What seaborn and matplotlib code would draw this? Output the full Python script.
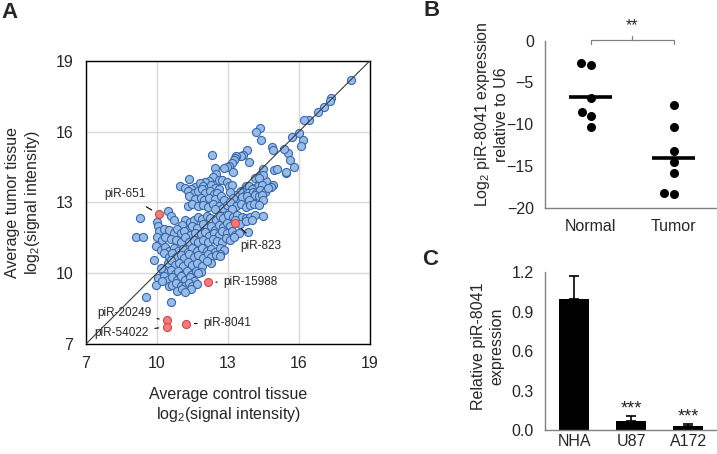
import numpy as np
import pandas as pd
import matplotlib
matplotlib.use('Agg')
import matplotlib.pyplot as plt
import seaborn as sns

sns.set_style('white')
plt.rcParams['font.family'] = ['Liberation Sans', 'DejaVu Sans']
plt.rcParams['mathtext.fontset'] = 'custom'
plt.rcParams['mathtext.rm'] = 'Liberation Sans'
plt.rcParams['mathtext.it'] = 'Liberation Sans:italic'

# ---- panel A: microarray scatter (log2 signal) ----
ctrl_signal = [
    18.18, 17.35, 17.3, 17.06, 16.8, 16.44, 16.2, 16.0, 16.15, 16.1, 15.7, 15.55, 15.6, 15.8, 15.45, 15.35, 14.86, 14.9,
    14.35, 14.2, 14.4,
    13.8, 13.65, 13.55, 13.35, 12.32, 13.9, 13.28,
    13.25, 13.15, 13.05, 12.95, 12.85, 13.2, 12.45, 14.5, 14.93, 15.07, 15.44,
    12.5, 12.35, 12.6, 12.75, 12.95, 13.05, 11.35, 12.2, 12.05, 14.15, 14.35, 14.6, 14.48, 14.3,
    10.97, 11.18, 11.6, 11.8, 11.95, 12.15, 12.3, 12.45, 12.6, 11.45, 13.75, 13.9, 14.1, 14.25, 14.45, 14.9, 13.55, 13.65, 14.0, 14.8, 13.17,
    11.3, 11.55, 11.75, 11.9, 12.05, 12.25, 12.4, 12.55, 13.5, 13.7, 13.85, 14.05, 14.2, 14.35, 14.55, 14.7, 13.3, 13.1,
    11.35, 11.6, 11.85, 12.0, 12.2, 12.45, 12.7, 12.85, 13.45, 13.6, 13.8, 14.0, 14.15, 14.3, 14.45, 14.5, 13.9, 13.2,
    11.3, 11.5, 11.75, 11.95, 12.15, 12.35, 12.6, 12.8, 12.95, 13.1, 13.35, 13.55, 13.75, 13.95, 14.1, 14.3, 13.15, 12.45, 10.45,
    10.58, 10.7, 11.2, 11.4, 11.55, 11.75, 11.9, 12.1, 12.25, 12.5, 12.65, 12.8, 13.0, 13.2, 13.4, 13.6, 13.75, 13.95, 14.15, 14.5, 13.3, 9.28,
    10.0, 10.05, 11.05, 11.3, 11.5, 11.7, 11.95, 12.1, 12.3, 12.45, 12.6, 12.8, 12.95, 13.1, 13.5, 13.75, 14.0,
    10.1, 10.3, 10.5, 10.7, 10.85, 11.0, 11.15, 11.4, 11.6, 11.85, 12.05, 12.2, 12.4, 12.6, 12.75, 12.95, 13.15, 13.3, 13.45, 13.86,
    9.1, 9.4, 10.0, 10.2, 10.35, 10.6, 10.8, 11.0, 11.2, 11.35, 11.55, 11.75, 11.95, 12.15, 12.35, 12.55, 12.75, 12.9, 13.1, 13.25,
    9.95, 10.15, 10.35, 10.5, 10.7, 10.9, 11.1, 11.3, 11.5, 11.7, 11.9, 12.1, 12.3, 12.45, 12.65, 12.85, 12.65,
    10.3, 10.5, 10.65, 10.8, 11.0, 11.15, 11.35, 11.55, 11.75, 11.95, 12.15, 12.3, 12.5, 12.65,
    9.86, 10.45, 10.6, 10.75, 10.95, 11.1, 11.3, 11.5, 11.7, 11.9, 12.27, 12.1,
    10.25, 10.4, 10.6, 10.75, 10.9, 11.05, 11.25, 11.45, 11.65, 11.85, 10.15,
    10.05, 10.3, 10.45, 10.65, 10.85, 11.0, 11.2, 11.4, 11.55, 11.75,
    9.95, 10.2, 10.5, 10.65, 10.8, 11.0, 11.2, 11.35, 11.5, 11.7, 10.85, 11.05, 11.45, 11.2,
    9.54, 10.6,
]
tumor_signal = [
    18.17, 17.4, 17.3, 17.04, 16.83, 16.48, 16.48, 15.95, 15.66, 15.38, 15.75, 15.1, 14.8, 14.5, 14.25, 15.25, 15.35, 15.2,
    16.13, 16.0, 15.65,
    15.2, 15.0, 14.96, 14.96, 15.0, 14.72, 14.87,
    14.8, 14.65, 14.55, 14.5, 14.45, 14.3, 14.45, 14.4, 14.36, 14.42, 14.27,
    14.2, 14.08, 13.94, 13.96, 13.88, 13.7, 14.0, 13.9, 13.85, 14.05, 14.1, 13.9, 14.17, 14.03,
    13.7, 13.6, 13.65, 13.8, 13.7, 13.6, 13.75, 13.6, 13.55, 13.55, 13.7, 13.7, 13.62, 13.7, 13.75, 13.73, 13.5, 13.45, 13.55, 13.63, 13.75,
    13.5, 13.4, 13.5, 13.55, 13.4, 13.5, 13.35, 13.4, 13.45, 13.3, 13.38, 13.45, 13.38, 13.52, 13.45, 13.6, 13.3, 13.45,
    13.28, 13.16, 13.2, 13.1, 13.2, 13.14, 13.28, 13.12, 13.12, 13.22, 13.28, 13.14, 13.3, 13.28, 13.3, 13.12, 13.12, 13.17,
    12.85, 12.92, 12.85, 12.88, 12.82, 12.92, 12.85, 12.78, 12.88, 13.0, 12.85, 12.92, 12.82, 12.88, 12.92, 12.88, 12.72, 12.7, 12.65,
    12.42, 12.25, 12.25, 12.18, 12.25, 12.4, 12.28, 12.42, 12.32, 12.25, 12.42, 12.32, 12.46, 12.39, 12.46, 12.39, 12.32, 12.39, 12.46, 12.43, 12.25, 12.33,
    12.15, 11.99, 12.05, 11.84, 11.98, 11.91, 12.09, 11.91, 12.01, 11.84, 12.05, 11.95, 12.12, 11.98, 12.09, 12.19, 12.25,
    11.77, 11.87, 11.84, 11.7, 11.87, 11.7, 11.77, 11.63, 11.7, 11.66, 11.73, 11.59, 11.7, 11.63, 11.77, 11.7, 11.8, 11.63, 11.7, 11.73,
    11.52, 11.52, 11.55, 11.41, 11.52, 11.44, 11.41, 11.34, 11.52, 11.3, 11.41, 11.34, 11.41, 11.3, 11.44, 11.38, 11.3, 11.48, 11.41, 11.55,
    11.13, 10.99, 11.09, 10.95, 11.06, 10.92, 11.03, 10.88, 11.06, 10.95, 11.06, 10.92, 11.03, 10.88, 11.06, 10.99, 10.8,
    10.85, 10.7, 10.85, 10.68, 10.78, 10.63, 10.82, 10.68, 10.78, 10.63, 10.82, 10.68, 10.78, 10.74,
    10.54, 10.42, 10.54, 10.35, 10.45, 10.31, 10.49, 10.35, 10.45, 10.31, 10.45, 10.5,
    10.1, 10.0, 10.14, 9.97, 10.11, 9.94, 10.08, 9.94, 10.11, 10.06, 10.21,
    9.79, 9.86, 9.72, 9.83, 9.69, 9.86, 9.72, 9.83, 9.65, 10.0,
    9.5, 9.65, 9.44, 9.5, 9.6, 9.44, 9.47, 9.58, 9.44, 9.55, 9.25, 9.32, 9.35, 9.22,
    8.99, 8.77,
]

pirna_names = ['piR-651', 'piR-823', 'piR-15988', 'piR-20249', 'piR-54022', 'piR-8041']
pirna_ctrl = [10.08, 13.31, 12.14, 10.44, 10.42, 11.23]
pirna_tumor = [12.49, 12.12, 9.62, 8.0, 7.73, 7.86]
# where each label sits (data coords) and how it is aligned
label_pos = [(8.65, 13.36), (13.5, 11.15), (12.8, 9.63), (9.75, 8.31), (9.66, 7.47), (11.95, 7.89)]
label_ha = ['center', 'left', 'left', 'right', 'right', 'left']
leader_gap = [5, 4, 2, 2, 2, 2]

axis_ticks_a = [7, 10, 13, 16, 19]

# ---- panel B: qRT-PCR in tissue ----
normal_vals = [-2.9, -2.7, -6.9, -8.5, -9.0, -10.3]
tumor_vals = [-7.7, -10.3, -13.2, -14.5, -15.8, -18.4, -18.2]

# ---- panel C: cell lines ----
cell_lines = ['NHA', 'U87', 'A172']
rel_expr = [1.0, 0.066, 0.028]
rel_err = [0.17, 0.038, 0.015]
stars = ['', '***', '***']

fig = plt.figure(figsize=(7.17, 4.54), dpi=100)

# ================= A =================
axA = fig.add_axes([0.1199, 0.2423, 0.3961, 0.624])
axA.set_axisbelow(True)
axA.grid(True, color='#d9d9d9', lw=1)
sns.scatterplot(x=ctrl_signal, y=tumor_signal, ax=axA, s=34, color='#98bce8',
                edgecolor='#3a67a8', linewidth=0.8, zorder=2)
sns.scatterplot(x=pirna_ctrl, y=pirna_tumor, ax=axA, s=34, color='#f47a7c',
                edgecolor='#c4504f', linewidth=0.8, zorder=3)
axA.axline((7, 7), slope=1, color='#3a3a3a', lw=0.8, zorder=4)
for name, cx, ty, pos, ha, gap in zip(pirna_names, pirna_ctrl, pirna_tumor, label_pos, label_ha, leader_gap):
    axA.annotate(name, xy=(cx, ty), xytext=pos, ha=ha, va='center', fontsize=8.5,
                 arrowprops=dict(arrowstyle='-', color='black', lw=0.8, shrinkA=gap, shrinkB=6))
axA.set_xlim(7, 19)
axA.set_ylim(7, 19)
axA.set_xticks(axis_ticks_a)
axA.set_yticks(axis_ticks_a)
axA.tick_params(direction='out', length=5, width=1, labelsize=11.5, pad=4, color='black')
for sp in axA.spines.values():
    sp.set_color('black')
    sp.set_linewidth(1)
axA.set_xlabel('Average control tissue\nlog$_2$(signal intensity)', fontsize=11.5, labelpad=11)
axA.set_ylabel('Average tumor tissue\nlog$_2$(signal intensity)', fontsize=11.5, labelpad=10)

# ================= B =================
axB = fig.add_axes([0.760, 0.5425, 0.2385, 0.3678])
df_b = pd.DataFrame({
    'group': ['Normal'] * len(normal_vals) + ['Tumor'] * len(tumor_vals),
    'value': normal_vals + tumor_vals,
})
groups_b = ['Normal', 'Tumor']
sns.swarmplot(data=df_b, x='group', y='value', order=groups_b, color='black',
              size=6.5, ax=axB)
means_b = df_b.groupby('group')['value'].mean().reindex(groups_b)
for i, m in enumerate(means_b):
    axB.hlines(m, i - 0.26, i + 0.26, color='black', lw=2.6, zorder=5)
# significance bracket
axB.plot([0, 0, 1, 1], [-0.35, 0.1, 0.1, -0.35], color='#808080', lw=0.9, clip_on=False)
axB.plot([0.5, 0.5], [0.1, 0.55], color='#808080', lw=0.9, clip_on=False)
axB.text(0.5, 0.9, '**', ha='center', va='bottom', fontsize=11.5)
axB.set_xlim(-0.55, 1.51)
axB.set_ylim(-20, 0)
axB.set_yticks([0, -5, -10, -15, -20])
axB.set_xlabel('')
axB.set_ylabel('Log$_2$ piR-8041 expression\nrelative to U6', fontsize=11.5)
axB.yaxis.set_label_coords(-0.21, 0.56)

# ================= C =================
axC = fig.add_axes([0.760, 0.0529, 0.2385, 0.3474])
sns.barplot(x=cell_lines, y=rel_expr, color='black', width=0.53, saturation=1,
            errorbar=None, linewidth=0, ax=axC)
axC.errorbar(range(len(cell_lines)), rel_expr, yerr=[np.zeros(len(rel_err)), rel_err],
             fmt='none', ecolor='black', elinewidth=1.2, capsize=3.5, capthick=1.2)
for i, (v, e, s) in enumerate(zip(rel_expr, rel_err, stars)):
    if s:
        axC.text(i, v + e - 0.01, s, ha='center', va='bottom', fontsize=13)
axC.set_xlim(-0.515, 2.49)
axC.set_ylim(0, 1.2)
axC.set_yticks([0.0, 0.3, 0.6, 0.9, 1.2])
axC.set_yticklabels(['0.0', '0.3', '0.6', '0.9', '1.2'])
axC.set_ylabel('Relative piR-8041\nexpression', fontsize=11.5)
axC.yaxis.set_label_coords(-0.24, 0.53)

for ax in (axB, axC):
    sns.despine(ax=ax)
    for side in ('left', 'bottom'):
        ax.spines[side].set_color('#808080')
        ax.spines[side].set_linewidth(1)
    ax.tick_params(axis='y', direction='out', length=5, width=1, color='#808080', labelsize=11.5, pad=3)
    ax.tick_params(axis='x', length=0, labelsize=11.5)
axB.tick_params(axis='x', pad=8)
axC.tick_params(axis='x', pad=3)

# panel letters
fig.text(0.002, 0.996, 'A', fontsize=16, fontweight='bold', va='top', ha='left')
fig.text(0.590, 1.0, 'B', fontsize=16, fontweight='bold', va='top', ha='left')
fig.text(0.589, 0.452, 'C', fontsize=16, fontweight='bold', va='top', ha='left')

fig.savefig('out.png', dpi=100)
